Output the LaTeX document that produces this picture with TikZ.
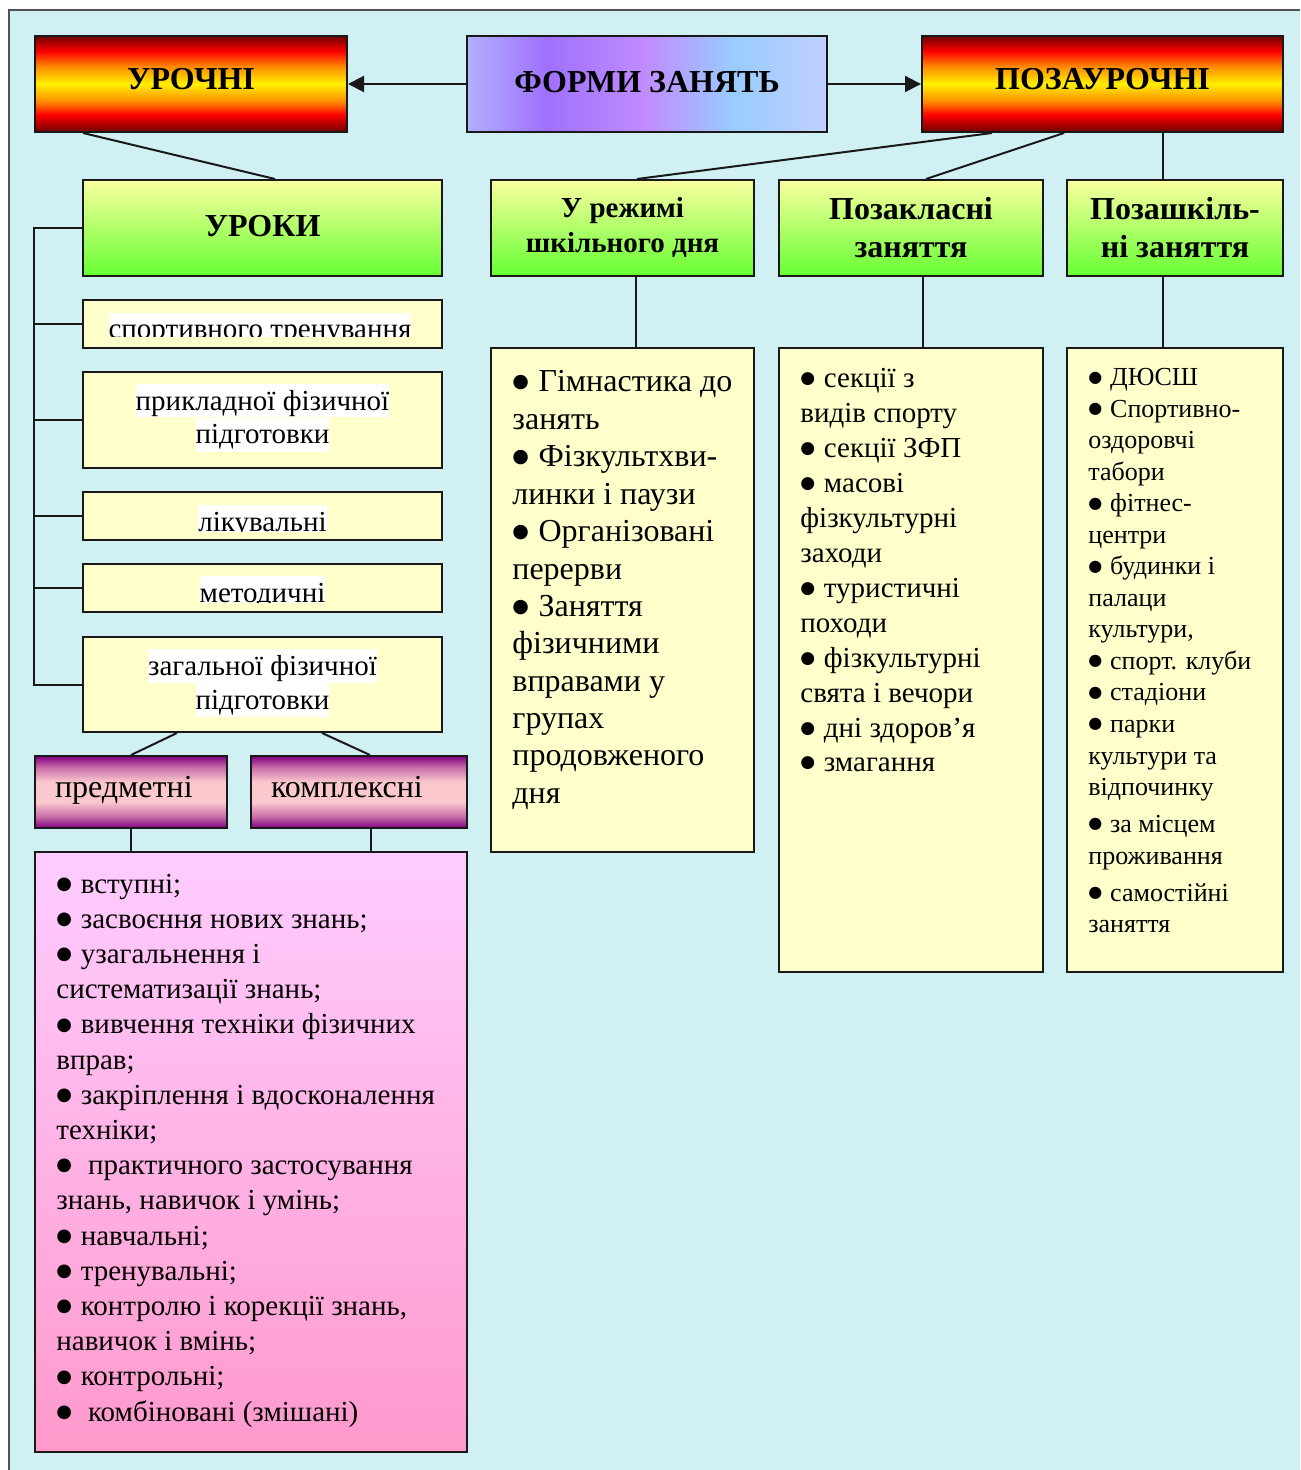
\documentclass[tikz,border=0pt]{standalone}
\usepackage{fontspec}
\setmainfont{Liberation Serif}
\newfontfamily\bulfont{DejaVu Sans}
\usetikzlibrary{arrows.meta,calc}

\definecolor{bgc}{RGB}{208,240,244}
\definecolor{framec}{RGB}{80,80,80}
\definecolor{lemon}{RGB}{255,255,204}
\definecolor{gtop}{RGB}{250,255,160}
\definecolor{gbot}{RGB}{102,255,51}
\definecolor{ptop}{RGB}{255,204,255}
\definecolor{pbot}{RGB}{255,153,204}
\definecolor{fdark}{RGB}{110,0,0}
\definecolor{fred}{RGB}{255,0,0}
\definecolor{forange}{RGB}{255,140,0}
\definecolor{fyellow}{RGB}{255,240,0}
\definecolor{vpurple}{RGB}{128,0,128}
\definecolor{vmid}{RGB}{200,110,170}
\definecolor{vpink}{RGB}{250,200,205}
\definecolor{blA}{RGB}{176,176,255}
\definecolor{blB}{RGB}{160,112,255}
\definecolor{blC}{RGB}{192,140,255}
\definecolor{blD}{RGB}{153,204,255}
\definecolor{blE}{RGB}{192,208,255}

\pgfdeclareverticalshading{fire}{100bp}{color(0bp)=(fdark); color(25bp)=(fdark); color(34bp)=(fred); color(41bp)=(forange); color(50bp)=(fyellow); color(59bp)=(forange); color(67bp)=(fred); color(75bp)=(fdark); color(100bp)=(fdark)}
\pgfdeclareverticalshading{violetpink}{100bp}{color(0bp)=(vpurple); color(25bp)=(vpurple); color(33bp)=(vmid); color(43bp)=(vpink); color(57bp)=(vpink); color(67bp)=(vmid); color(75bp)=(vpurple); color(100bp)=(vpurple)}
\pgfdeclarehorizontalshading{lilac}{100bp}{color(0bp)=(blA); color(25bp)=(blA); color(36bp)=(blB); color(50bp)=(blC); color(62bp)=(blD); color(75bp)=(blE); color(100bp)=(blE)}

\newcommand{\mylist}[1]{\begin{tabular}[t]{@{}l@{}}#1\end{tabular}}
\def\bulsize{9}
\def\bulraise{0.8pt}
\newcommand{\bul}{\raisebox{\bulraise}{\bulfont\fontsize{\bulsize}{\bulsize}\selectfont ●}\hspace{0.3em}}

\tikzset{
  bx/.style={draw=black!90, line width=1pt, rectangle, inner sep=0pt},
  ln/.style={line width=1pt, draw=black!90},
  hdr/.style={font=\bfseries\fontsize{16}{19}\selectfont},
  firebox/.style={bx, shade, shading=fire, hdr},
  greenbox/.style={bx, top color=gtop, bottom color=gbot, hdr},
  lemonbox/.style={bx, fill=lemon},
  purplebox/.style={bx, shade, shading=violetpink, font=\fontsize{16}{19}\selectfont, align=left, text height=11pt, text depth=6pt},
  hl/.style={fill=white, inner xsep=0pt, inner ysep=0pt, font=\fontsize{14.5}{17}\selectfont, text height=13pt, text depth=3.75pt, anchor=base},
  listtext/.style={anchor=base west, inner sep=0pt},
  tip/.style={-{Triangle[length=8pt,width=8pt]}}
}

\begin{document}
\begin{tikzpicture}[x=0.5pt,y=-0.5pt]
\useasboundingbox (0,0) rectangle (1300,1470);
\fill[white] (0,0) rectangle (1300,1470);
\fill[bgc] (9,10) rectangle (1300,1470);
\draw[framec, line width=1.2pt] (9,1470) -- (9,10) -- (1300,10);

% top row
\node[firebox, minimum width=156pt, minimum height=48pt, text height=11pt, text depth=5pt] (urochni) at (191,84) {УРОЧНІ};
\node[bx, shade, shading=lilac, hdr, minimum width=180pt, minimum height=48pt, text height=11pt, text depth=2pt] (formy) at (647,84) {ФОРМИ ЗАНЯТЬ};
\node[firebox, minimum width=180.5pt, minimum height=48pt, text height=11pt, text depth=5pt] (pozaur) at (1102.5,84) {ПОЗАУРОЧНІ};

% second row
\node[greenbox, minimum width=179.5pt, minimum height=48pt, text height=11pt, text depth=2pt] (uroky) at (262.5,228) {УРОКИ};
\node[greenbox, minimum width=131.5pt, minimum height=48pt, text height=10pt, text depth=20pt, font=\bfseries\fontsize{14.5}{17.5}\selectfont] (rezhym) at (622.5,228) {\parbox[t]{125pt}{\centering У режимі\\шкільного дня}};
\node[greenbox, minimum width=132pt, minimum height=48pt, text height=10pt, text depth=18pt] (pozakl) at (911,228) {\parbox[t]{125pt}{\centering Позакласні\\заняття}};
\node[greenbox, minimum width=108pt, minimum height=48pt, text height=10pt, text depth=18pt] (pozashk) at (1175,228) {\parbox[t]{104pt}{\centering Позашкіль-\\ні заняття}};

% lesson kinds
\node[lemonbox, minimum width=179.5pt, minimum height=24pt] (sport) at (262.5,324) {};
\node[lemonbox, minimum width=179.5pt, minimum height=48pt] (prykl) at (262.5,420) {};
\node[lemonbox, minimum width=179.5pt, minimum height=24pt] (likuv) at (262.5,516) {};
\node[lemonbox, minimum width=179.5pt, minimum height=24pt] (metod) at (262.5,588) {};
\node[lemonbox, minimum width=179.5pt, minimum height=47.5pt] (zagal) at (262.5,684.5) {};

\begin{scope}
\clip (83,312) rectangle (442,337);
\node[hl] (sportT) at (260,339) {спортивного тренування};
\end{scope}
\node[hl] (pryklA) at (262.5,410) {прикладної фізичної};
\node[hl] (pryklB) at (262.5,444) {підготовки};
\begin{scope}
\clip (83,504) rectangle (442,531);
\node[hl] (likuvT) at (262.5,531) {лікувальні};
\end{scope}
\begin{scope}
\clip (83,575) rectangle (442,602);
\node[hl] (metodT) at (262.5,602) {методичні};
\end{scope}
\node[hl] (zagalA) at (262.5,675) {загальної фізичної};
\node[hl] (zagalB) at (262.5,709) {підготовки};

% subject / complex
\node[purplebox, minimum width=96pt, minimum height=36pt, text width=76pt] (predm) at (131,792) {предметні};
\node[purplebox, minimum width=108pt, minimum height=36pt, text width=88pt] (kompl) at (359,792) {комплексні};

% big list boxes
\node[bx, top color=ptop, bottom color=pbot, minimum width=216pt, minimum height=300pt] (pinkl) at (251,1152) {};
\node[lemonbox, minimum width=131.5pt, minimum height=252pt] (rezhymlist) at (622.5,600) {};
\node[lemonbox, minimum width=132pt, minimum height=312pt] (pozakllist) at (911,660) {};
\node[lemonbox, minimum width=108pt, minimum height=312pt] (pozashklist) at (1175,660) {};

\node[listtext, font=\fontsize{14.5}{17.6}\selectfont\def\bulsize{9}\def\bulraise{1.9pt}] (pinkt) at (56,893) {\mylist{%
\bul вступні;\\
\bul засвоєння нових знань;\\
\bul узагальнення і\\
систематизації знань;\\
\bul вивчення техніки фізичних\\
вправ;\\
\bul закріплення і вдосконалення\\
техніки;\\
\bul\ практичного застосування\\
знань, навичок і умінь;\\
\bul навчальні;\\
\bul тренувальні;\\
\bul контролю і корекції знань,\\
навичок і вмінь;\\
\bul контрольні;\\
\bul\ комбіновані (змішані)}};

\node[listtext, font=\fontsize{16}{18.7}\selectfont\def\bulsize{9.5}\def\bulraise{2.1pt}] (rezhymt) at (512,392) {\mylist{%
\bul Гімнастика до\\
занять\\
\bul Фізкультхви-\\
линки і паузи\\
\bul Організовані\\
перерви\\
\bul Заняття\\
фізичними\\
вправами у\\
групах\\
продовженого\\
дня}};

\node[listtext, font=\fontsize{14.5}{17.45}\selectfont\def\bulsize{8.5}\def\bulraise{2pt}] (pozaklt) at (800,388) {\mylist{%
\bul секції з\\
видів спорту\\
\bul секції ЗФП\\
\bul масові\\
фізкультурні\\
заходи\\
\bul туристичні\\
походи\\
\bul фізкультурні\\
свята і вечори\\
\bul дні здоров’я\\
\bul змагання}};

\node[listtext, font=\fontsize{13}{15.75}\selectfont\def\bulsize{8}\def\bulraise{1.8pt}] (pozashkt) at (1088,386) {\mylist{%
\bul ДЮСШ\\
\bul Спортивно-\\
оздоровчі\\
табори\\
\bul фітнес-\\
центри\\
\bul будинки і\\
палаци\\
культури,\\
\bul спорт. клуби\\
\bul стадіони\\
\bul парки\\
культури та\\
відпочинку\\[2.75pt]
\bul за місцем\\
проживання\\[2.75pt]
\bul самостійні\\
заняття}};

% connectors
\draw[ln, tip] (formy.west) -- (urochni.east);
\draw[ln, tip] (formy.east) -- (pozaur.west);
\draw[ln] ([xshift=24.5pt]urochni.south west) -- ([xshift=6.25pt]uroky.north);
\draw[ln] ([xshift=35.5pt]pozaur.south west) -- ([xshift=7.25pt]rezhym.north);
\draw[ln] ([xshift=71.5pt]pozaur.south west) -- ([xshift=7.5pt]pozakl.north);
\coordinate (pzA) at ([xshift=-6pt]pozashk.north);
\draw[ln] (pzA) -- (pzA |- pozaur.south);
\coordinate (rzB) at ([xshift=6.5pt]rezhym.south);
\draw[ln] (rzB) -- (rzB |- rezhymlist.north);
\coordinate (pkB) at ([xshift=6pt]pozakl.south);
\draw[ln] (pkB) -- (pkB |- pozakllist.north);
\coordinate (pzB) at ([xshift=-6pt]pozashk.south);
\draw[ln] (pzB) -- (pzB |- pozashklist.north);

\draw[ln] (uroky.west) -- (uroky.west -| urochni.west) |- (zagal.west);
\draw[ln] (sport.west) -- (sport.west -| urochni.west);
\draw[ln] (prykl.west) -- (prykl.west -| urochni.west);
\draw[ln] (likuv.west) -- (likuv.west -| urochni.west);
\draw[ln] (metod.west) -- (metod.west -| urochni.west);

\draw[ln] ([xshift=47.5pt]zagal.south west) -- (predm.north);
\draw[ln] ([xshift=120pt]zagal.south west) -- ([xshift=5.5pt]kompl.north);
\draw[ln] (predm.south) -- (predm.south |- pinkl.north);
\coordinate (kxB) at ([xshift=6pt]kompl.south);
\draw[ln] (kxB) -- (kxB |- pinkl.north);
\end{tikzpicture}
\end{document}
